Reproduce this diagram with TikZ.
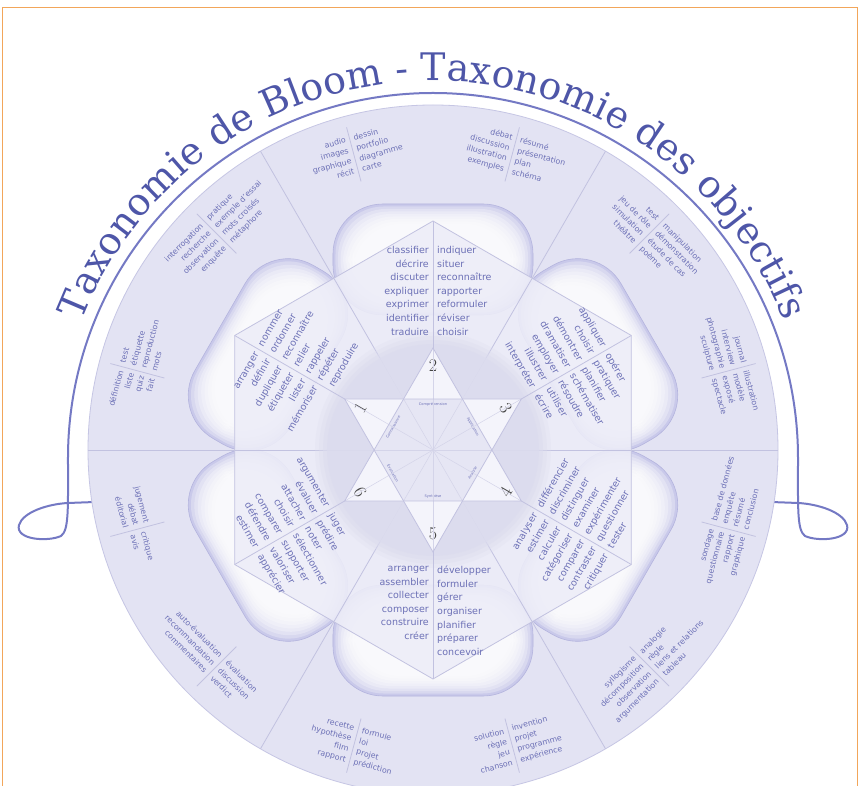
\documentclass[tikz,border=0pt]{standalone}
\usepackage{fontspec}
\setmainfont{DejaVu Sans}
\newfontfamily\titlefont{DejaVu Serif}
\newfontfamily\numfont{Latin Modern Roman}
\usetikzlibrary{decorations.text}
\definecolor{wordc}{HTML}{6C70B6}
\definecolor{ringfill}{HTML}{E3E3F3}
\definecolor{ringline}{HTML}{C6C6E4}
\definecolor{hexfill}{HTML}{EDEDF8}
\definecolor{hexline}{HTML}{C2C2E0}
\definecolor{titlec}{HTML}{4E56A8}
\definecolor{loopc}{HTML}{7479C4}
\definecolor{framec}{HTML}{F2A65A}
\definecolor{petaledge}{HTML}{C9C9EA}
\definecolor{petalline}{HTML}{B4B4DE}
\definecolor{diskc}{HTML}{DCDCEE}
\definecolor{tipc}{HTML}{F4F4FB}
\definecolor{innerc}{HTML}{E6E6F4}
\definecolor{numc}{HTML}{444444}

\newcommand\hexsector[3]{%
  \pgfmathsetmacro{\myrot}{sin(#1)>0 ? #1-90 : #1+90}
  \draw[hexdiv] (#1:102) -- (#1:229);
  \begin{scope}[shift={(#1:160)}, rotate=\myrot]
    \node[hexword, anchor=north east, align=right] (hl#1) at (-4,44) {#2};
    \node[hexword, anchor=north west, align=left] (hr#1) at (4,44) {#3};
  \end{scope}}
\newcommand\outergroup[3]{%
  \pgfmathsetmacro{\myrot}{sin(#1)>0 ? #1-90 : #1+90}
  \begin{scope}[shift={(#1:306)}, rotate=\myrot]
    \draw[hexdiv] (0,-28) -- (0,28);
    \node[ringword, anchor=east, align=right] (ol#1) at (-4,0) {#2};
    \node[ringword, anchor=west, align=left] (or#1) at (4,0) {#3};
  \end{scope}}
\newcommand\petal[1]{%
  \begin{scope}[rotate=#1-90]
    \fill[petaledge, rounded corners=50] (-100,135) rectangle (100,246);
    \foreach \k in {1,...,8}{\fill[white, opacity=0.28, rounded corners=48] (-100+2.5*\k,135+2.5*\k) rectangle (100-2.5*\k,246-2.5*\k);}
    \draw[petalline, line width=0.6pt, rounded corners=50] (-100,135) rectangle (100,246);
  \end{scope}}
\newcommand\startip[3]{%
  \pgfmathsetmacro{\myrot}{sin(#1)>0 ? #1-90 : #1+90}
  \fill[tipc] (#1:102) -- (#1+30:58.9) -- (#1-30:58.9) -- cycle;
  \node[font=\numfont\fontsize{18}{18}\selectfont, text=numc, rotate=\myrot] (n#2) at (#1:84) {#2};
  \node[font=\fontsize{3.6}{4}\selectfont, text=wordc, rotate=\myrot] (lab#2) at (#1:46) {#3};}

\begin{document}
\begin{tikzpicture}[x=1pt,y=1pt,
  hexword/.style={font=\fontsize{9.5}{13.6}\selectfont, text=wordc, inner sep=0pt, transform shape},
  ringword/.style={font=\fontsize{7.8}{10.8}\selectfont, text=wordc, inner sep=0pt, transform shape},
  hexdiv/.style={draw=hexline, line width=0.8pt},
  loopline/.style={draw=loopc, line width=2pt}]
\useasboundingbox (-433,-336) rectangle (428,450);
\fill[white] (-433,-336) rectangle (428,450);
% frame
\draw[framec, line width=1pt] (-430,-340) -- (-430,442) -- (424,442) -- (424,-340);
% title line with loops
\draw[loopline] (-338,-52) -- (-365,-53) .. controls (-385,-54) and (-410,-62) .. (-414,-75)
   .. controls (-418,-90) and (-385,-92) .. (-372,-86) .. controls (-364,-80) and (-365,-60) .. (-365,-8)
   arc[start angle=180, end angle=0, radius=365]
   .. controls (365,-60) and (364,-80) .. (372,-86) .. controls (385,-92) and (418,-90) .. (414,-75)
   .. controls (410,-62) and (385,-54) .. (365,-53) -- (338,-52);
% outer disk
\fill[ringfill] (0,0) circle (345);
\draw[ringline, line width=0.8pt] (0,0) circle (345);
\foreach \a in {0,60,...,300}{\draw[hexdiv] (\a:198) -- (\a:345);}
% petals
\foreach \a in {90,30,-30,-90,-150,150}{\petal{\a}}
% hexagon
\fill[hexfill, opacity=0.88] (90:229) -- (30:229) -- (-30:229) -- (-90:229) -- (-150:229) -- (150:229) -- cycle;
\draw[hexdiv] (90:229) -- (30:229) -- (-30:229) -- (-90:229) -- (-150:229) -- (150:229) -- cycle;
\foreach \a in {0,60,...,300}{\draw[hexdiv] (\a:58.9) -- (\a:198);}
% central disk
\foreach \r/\o in {118/0.25,114/0.35,110/0.5,106/0.7}{\fill[diskc, opacity=\o] (0,0) circle (\r);}
% star
\fill[innerc] (0:58.9) -- (60:58.9) -- (120:58.9) -- (180:58.9) -- (240:58.9) -- (300:58.9) -- cycle;
\startip{90}{2}{Compréhension}
\startip{30}{3}{Application}
\startip{-30}{4}{Analyse}
\startip{-90}{5}{Synthèse}
\startip{-150}{6}{Évaluation}
\startip{150}{1}{Connaissance}
\foreach \a in {0,60,120}{\draw[hexline!70, line width=0.5pt] (\a:58.9) -- (\a+180:58.9); \draw[hexline!70, line width=0.5pt] (\a+30:102) -- (\a+210:102);}
\draw[hexdiv] (90:102) -- (210:102) -- (330:102) -- cycle;
\draw[hexdiv] (30:102) -- (150:102) -- (270:102) -- cycle;
% hexagon sectors
\hexsector{90}{classifier\\décrire\\discuter\\expliquer\\exprimer\\identifier\\traduire}{indiquer\\situer\\reconnaître\\rapporter\\reformuler\\réviser\\choisir}
\hexsector{30}{appliquer\\choisir\\démontrer\\dramatiser\\employer\\illustrer\\interpréter}{opérer\\pratiquer\\planifier\\schématiser\\résoudre\\utiliser\\écrire}
\hexsector{330}{analyser\\estimer\\calculer\\catégoriser\\comparer\\contraster\\critiquer}{différencier\\discriminer\\distinguer\\examiner\\expérimenter\\questionner\\tester}
\hexsector{270}{arranger\\assembler\\collecter\\composer\\construire\\créer}{développer\\formuler\\gérer\\organiser\\planifier\\préparer\\concevoir}
\hexsector{210}{argumenter\\évaluer\\attacher\\choisir\\comparer\\défendre\\estimer}{juger\\prédire\\noter\\sélectionner\\supporter\\valoriser\\apprécier}
\hexsector{150}{arranger\\définir\\dupliquer\\étiqueter\\lister\\mémoriser}{nommer\\ordonner\\reconnaître\\relier\\rappeler\\répéter\\reproduire}
% outer groups
\outergroup{105}{audio\\images\\graphique\\récit}{dessin\\portfolio\\diagramme\\carte}
\outergroup{75}{débat\\discussion\\illustration\\exemples}{résumé\\présentation\\plan\\schéma}
\outergroup{45}{test\\jeu de rôle\\simulation\\théâtre}{manipulation\\démonstration\\étude de cas\\poème}
\outergroup{15}{journal\\interview\\photographie\\sculpture}{illustration\\modèle\\exposé\\spectacle}
\outergroup{345}{sondage\\questionnaire\\rapport\\graphique}{base de données\\enquête\\résumé\\conclusion}
\outergroup{315}{syllogisme\\décomposition\\observation\\argumentation}{analogie\\règle\\liens et relations\\tableau}
\outergroup{285}{solution\\règle\\jeu\\chanson}{invention\\projet\\programme\\expérience}
\outergroup{255}{recette\\hypothèse\\film\\rapport}{formule\\loi\\projet\\prédiction}
\outergroup{225}{auto-évaluation\\recommandation\\commentaires}{évaluation\\discussion\\verdict}
\outergroup{195}{jugement\\débat\\éditorial}{critique\\avis}
\outergroup{165}{définition\\liste\\quiz\\fait}{test\\étiquette\\reproduction\\mots}
\outergroup{135}{interrogation\\recherche\\observation\\enquête}{pratique\\exemple d'essai\\mots croisés\\métaphore}
% title
\path[decorate, decoration={text along path, text align=center,
  text={|\titlefont\fontsize{38}{38}\selectfont\color{titlec}|Taxonomie de Bloom - Taxonomie des objectifs}}]
  (0,-8) ++(165:377) arc[start angle=165, end angle=15, radius=377];
\end{tikzpicture}
\end{document}
